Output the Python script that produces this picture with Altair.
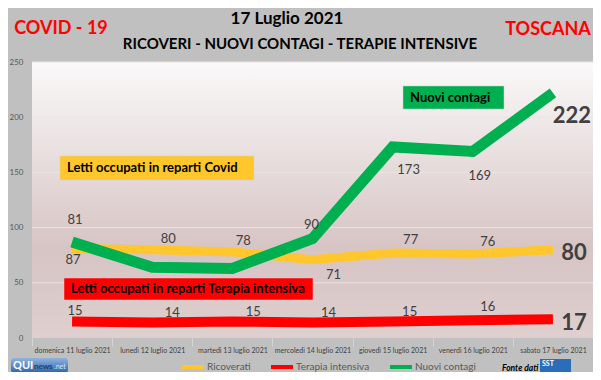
import altair as alt
import pandas as pd

# ---------------- data ----------------
DATES = ["domenica 11 luglio 2021", "lunedì 12 luglio 2021", "martedì 13 luglio 2021",
         "mercoledì 14 luglio 2021", "giovedì 15 luglio 2021", "venerdì 16 luglio 2021",
         "sabato 17 luglio 2021"]
RICOVERATI = [81, 80, 78, 71, 77, 76, 80]
TERAPIA = [15, 14, 15, 14, 15, 16, 17]
CONTAGI = [87, 64, 63, 90, 173, 169, 222]
SERIES = ["Ricoverati", "Terapia intensiva", "Nuovi contagi"]
Y_TICKS = [0, 50, 100, 150, 200, 250]

# which points carry a printed value label
SHOW_RIC = [1, 1, 1, 1, 1, 1, 1]
SHOW_TI = [1, 1, 1, 1, 1, 1, 1]
SHOW_NC = [1, 0, 0, 1, 1, 1, 1]

# label placement (pixel offsets from the point) -- styling, kept apart from values
RIC_DX = [3, 16, 11, 21, 18, 15, 21]
RIC_DY = [-29, -11, -11, 15, -13, -12, 3]
TI_DX = [3, 20, 21, 16, 17, 15, 21]
TI_DY = [-10, -10, -9, -10, -9, -13, 4]
NC_DX = [1, 0, 0, -1, 16, 7, 19]
NC_DY = [18, 0, 0, -14, 23, 25, 23]

COLORS = ["#ffc72c", "#ff0000", "#00b050"]
FONT = "Lato"
W, H = 561, 276

rows = []
for name, vals, show, dxs, dys in [
    ("Ricoverati", RICOVERATI, SHOW_RIC, RIC_DX, RIC_DY),
    ("Terapia intensiva", TERAPIA, SHOW_TI, TI_DX, TI_DY),
    ("Nuovi contagi", CONTAGI, SHOW_NC, NC_DX, NC_DY),
]:
    for i, (d, v) in enumerate(zip(DATES, vals)):
        rows.append({"date": d, "value": v, "series": name, "show": show[i],
                     "last": int(i == len(DATES) - 1), "dx": dxs[i], "dy": dys[i]})
df = pd.DataFrame(rows)

xscale = alt.Scale(type="band", domain=DATES, paddingInner=0, paddingOuter=0)
yscale = alt.Scale(domain=[0, 250])
cscale = alt.Scale(domain=SERIES, range=COLORS)

X = alt.X("date:N", scale=xscale, bandPosition=0.5, title=None,
          axis=alt.Axis(labelFontSize=7, labelColor="#404040", labelFont=FONT,
                        labelAngle=0, domain=False, ticks=True, tickBand="extent",
                        tickSize=8, tickColor="#d6d6d6", labelPadding=0,
                        grid=False))
Y = alt.Y("value:Q", scale=yscale, title=None,
          axis=alt.Axis(values=Y_TICKS, labelFontSize=8, labelColor="#595959",
                        labelFont=FONT, domain=False, ticks=False, grid=False,
                        labelPadding=9))

legend = alt.Legend(orient="none", legendX=148, legendY=292, direction="horizontal",
                    title=None, symbolType="stroke", symbolSize=484,
                    symbolStrokeWidth=4, labelFontSize=10, labelColor="#595959",
                    labelFont=FONT, columnPadding=12, labelOffset=1)

one = pd.DataFrame({"k": [0]})

# plot-area gradient
bg = alt.Chart(one).mark_rect(
    color=alt.LinearGradient(gradient="linear", x1=0, x2=0, y1=0, y2=1,
                             stops=[alt.GradientStop(offset=0, color="#faf9f9"),
                                    alt.GradientStop(offset=0.68, color="#d7c4c4"),
                                    alt.GradientStop(offset=1, color="#dfcfcf")])
).encode(x=alt.value(0), x2=alt.value(W), y=alt.value(0), y2=alt.value(H))

grid = alt.Chart(pd.DataFrame({"value": Y_TICKS[1:]})).mark_rule(
    color="#ebe4e4", strokeWidth=1).encode(y=Y)


def line(name, width):
    return alt.Chart(df[df.series == name]).mark_line(
        strokeWidth=width, strokeJoin="miter", strokeCap="butt").encode(
        x=X, y=Y, color=alt.Color("series:N", scale=cscale, legend=legend))


lines = [line("Ricoverati", 9), line("Terapia intensiva", 10), line("Nuovi contagi", 11)]

small = alt.Chart(df[(df.show == 1) & (df["last"] == 0)]).mark_text(
    fontSize=13, font=FONT, color="#404040", align="center", baseline="middle",
    dx=alt.ExprRef("datum.dx"), dy=alt.ExprRef("datum.dy")).encode(
    x=X, y=Y, text="value:Q")
big = alt.Chart(df[df["last"] == 1]).mark_text(
    fontSize=22, font=FONT, fontWeight="bold", color="#404040", align="center",
    baseline="middle", dx=alt.ExprRef("datum.dx"), dy=alt.ExprRef("datum.dy")).encode(
    x=X, y=Y, text="value:Q")


def box(x1, x2, y1, y2, fill):
    return alt.Chart(one).mark_rect(color=fill, stroke="#d0d0d0", strokeWidth=0.5).encode(
        x=alt.value(x1), x2=alt.value(x2), y=alt.value(y1), y2=alt.value(y2))


def txt(s, x, y, size, color="black", weight="bold", align="left", style="normal",
        baseline="middle"):
    return alt.Chart(one).mark_text(text=s, fontSize=size, font=FONT, fontWeight=weight,
                                    color=color, align=align, baseline=baseline,
                                    fontStyle=style).encode(
        x=alt.value(x), y=alt.value(y))


annots = [
    box(28, 222, 94, 118, "#ffc72c"),
    txt("Letti occupati in reparti Covid", 35, 106, 13),
    box(32, 281, 216, 238, "#ff0000"),
    txt("Letti occupati in reparti Terapia intensiva", 39, 227, 13),
    box(371, 472, 24, 47, "#00b050"),
    txt("Nuovi contagi", 378, 36, 13),
    txt("COVID - 19", 29, -28, 18, color="#ff0000", align="center", baseline="alphabetic"),
    txt("TOSCANA", 516, -27, 18, color="#ff0000", align="center", baseline="alphabetic"),
    txt("17 Luglio 2021", 255, -38, 17, align="center", baseline="alphabetic"),
    txt("RICOVERI - NUOVI CONTAGI - TERAPIE INTENSIVE", 268, -13, 15, align="center",
        baseline="alphabetic"),
    # logos
    alt.Chart(one).mark_rect(cornerRadius=3, color=alt.LinearGradient(
        gradient="linear", x1=0, x2=0, y1=0, y2=1,
        stops=[alt.GradientStop(offset=0, color="#8fb4dd"),
               alt.GradientStop(offset=1, color="#2f63a8")])).encode(
        x=alt.value(-21), x2=alt.value(36), y=alt.value(296), y2=alt.value(311)),
    txt("QUI", -19, 304, 11, color="white", weight="bold"),
    txt("news", 2, 305, 8, color="#1d3f73", weight="bold"),
    txt(".net", 22, 305, 7, color="#d8e6f7", weight="normal"),
    txt("Fonte dati", 470, 306, 8.5, weight="bold", style="italic"),
    alt.Chart(one).mark_rect(color="#2c6db8").encode(
        x=alt.value(508), x2=alt.value(539), y=alt.value(297), y2=alt.value(313)),
    txt("SST", 510, 302, 7, color="white"),
]

chart = alt.layer(bg, grid, *lines, small, big, *annots).properties(
    width=W, height=H,
    autosize=alt.AutoSizeParams(type="none"),
    padding={"left": 24, "top": 54, "right": 0, "bottom": 34},
    background="#c0c0c0",
).configure_view(stroke=None)

chart.save("out.html", embed_options={"renderer": "svg", "actions": False})
